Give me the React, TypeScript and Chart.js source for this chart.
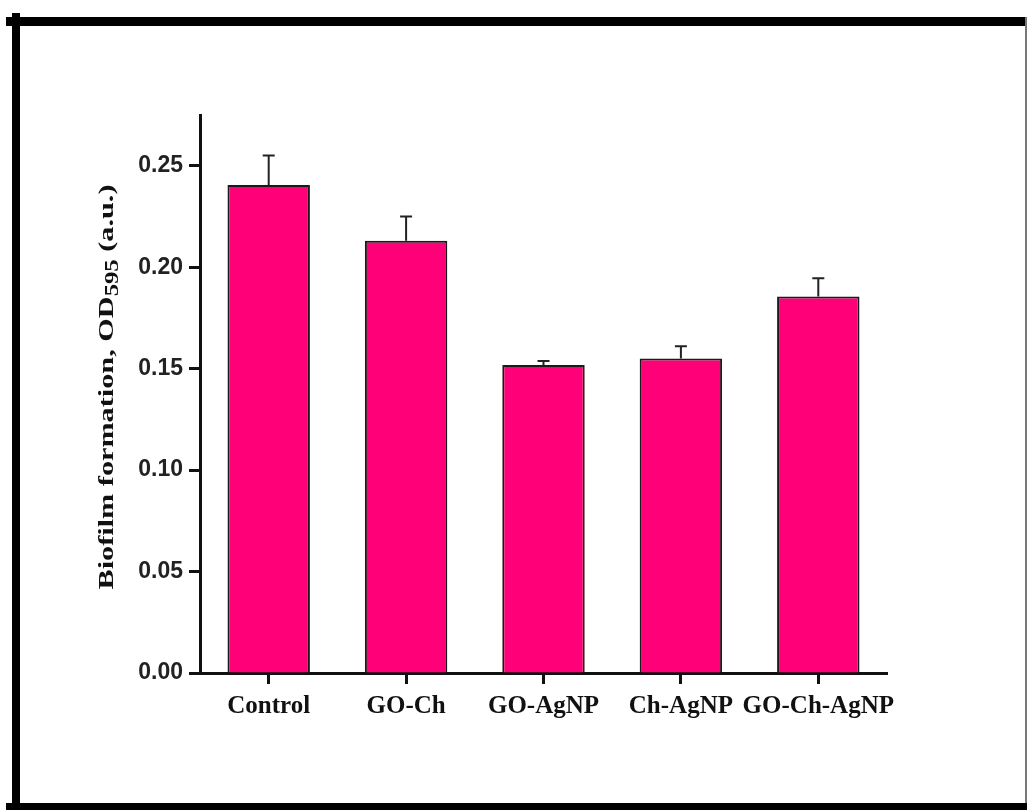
import React, { useEffect, useRef } from "react";
import { Chart, registerables } from "chart.js";

Chart.register(...registerables);

const categories = ["Control", "GO-Ch", "GO-AgNP", "Ch-AgNP", "GO-Ch-AgNP"];
const values = [0.2405, 0.213, 0.1518, 0.155, 0.1855];
const errors = [0.0145, 0.012, 0.002, 0.006, 0.009];
const yTicks = [0.0, 0.05, 0.1, 0.15, 0.2, 0.25];
const yTitleMain = "Biofilm formation, OD";
const yTitleSub = "595";
const yTitleTail = " (a.u.)";

const W = 1027;
const H = 810;

const framePlugin = {
  id: "frame",
  beforeDraw(chart: any) {
    const ctx = chart.ctx;
    ctx.save();
    ctx.fillStyle = "#ffffff";
    ctx.fillRect(0, 0, W, H);
    ctx.fillStyle = "#000000";
    ctx.fillRect(12, 13, 8, H - 13);
    ctx.fillRect(6, 17, 1019, 9);
    ctx.fillRect(6, 803, W - 6, 7);
    ctx.fillStyle = "#777777";
    ctx.fillRect(1025, 17, 2, 786);
    ctx.restore();
  },
};

const errorBarPlugin = {
  id: "errorBars",
  afterDatasetsDraw(chart: any) {
    const ctx = chart.ctx;
    const meta = chart.getDatasetMeta(0);
    const yScale = chart.scales.y;
    ctx.save();
    ctx.strokeStyle = "#222222";
    ctx.lineWidth = 2;
    meta.data.forEach((bar: any, i: number) => {
      const x = bar.x;
      const yb = yScale.getPixelForValue(values[i]);
      const yt = yScale.getPixelForValue(values[i] + errors[i]);
      ctx.beginPath();
      ctx.moveTo(x, yb);
      ctx.lineTo(x, yt);
      ctx.moveTo(x - 6, yt);
      ctx.lineTo(x + 6, yt);
      ctx.stroke();
    });
    ctx.restore();
  },
};

const yTitlePlugin = {
  id: "yTitle",
  afterDraw(chart: any) {
    const ctx = chart.ctx;
    ctx.save();
    const mainFont = "bold 22px 'Liberation Serif', 'Times New Roman', serif";
    const subFont = "bold 18px 'Liberation Serif', 'Times New Roman', serif";
    ctx.font = mainFont;
    const w1 = ctx.measureText(yTitleMain).width;
    const w3 = ctx.measureText(yTitleTail).width;
    ctx.font = subFont;
    const w2 = ctx.measureText(yTitleSub).width;
    const total = w1 + w2 + w3;
    const target = 405;
    const sx = target / total;
    const cx = 107;
    const cy = 387;
    ctx.translate(cx, cy);
    ctx.rotate(-Math.PI / 2);
    ctx.scale(sx, 1);
    ctx.fillStyle = "#111111";
    ctx.textBaseline = "middle";
    ctx.textAlign = "left";
    let x = -total / 2;
    ctx.font = mainFont;
    ctx.fillText(yTitleMain, x, 0);
    x += w1;
    ctx.font = subFont;
    ctx.fillText(yTitleSub, x, 6);
    x += w2;
    ctx.font = mainFont;
    ctx.fillText(yTitleTail, x, 0);
    ctx.restore();
  },
};

export default function App() {
  const ref = useRef<HTMLCanvasElement | null>(null);
  useEffect(() => {
    if (!ref.current) return;
    const chart = new Chart(ref.current, {
      type: "bar",
      data: {
        labels: categories,
        datasets: [
          {
            data: values,
            backgroundColor: "#FF0078",
            borderColor: "#1a1a1a",
            borderWidth: 2,
            barPercentage: 0.6,
            categoryPercentage: 1.0,
          },
        ],
      },
      options: {
        animation: false,
        responsive: false,
        devicePixelRatio: 1,
        layout: { padding: { left: 0, top: 115, right: 140, bottom: 0 } },
        plugins: {
          legend: { display: false },
          tooltip: { enabled: false },
        },
        scales: {
          x: {
            offset: true,
            afterFit(scale: any) {
              scale.height = H - 673;
            },
            grid: {
              offset: false,
              drawOnChartArea: false,
              drawTicks: true,
              tickLength: 11,
              tickWidth: 3,
              tickColor: "#111111",
            },
            border: { display: true, width: 3, color: "#111111" },
            ticks: {
              padding: 8,
              color: "#111111",
              autoSkip: false,
              font: { family: "'Liberation Serif', 'Times New Roman', serif", size: 25, weight: "bold" },
              maxRotation: 0,
              minRotation: 0,
            },
          },
          y: {
            min: 0,
            max: 0.275,
            afterFit(scale: any) {
              scale.width = 200;
            },
            afterBuildTicks(scale: any) {
              scale.ticks = yTicks.map((v) => ({ value: v }));
            },
            grid: {
              drawOnChartArea: false,
              drawTicks: true,
              tickLength: 11,
              tickWidth: 3,
              tickColor: "#111111",
            },
            border: { display: true, width: 3, color: "#111111" },
            ticks: {
              padding: 6,
              color: "#222222",
              font: { family: "'Liberation Sans', Arial, sans-serif", size: 23, weight: "bold" },
              callback: (v: any) => Number(v).toFixed(2),
            },
          },
        },
      },
      plugins: [framePlugin, errorBarPlugin, yTitlePlugin],
    });
    return () => chart.destroy();
  }, []);
  return (
    <div style={{ position: "absolute", left: 0, top: 0, width: W, height: H }}>
      <canvas ref={ref} width={W} height={H} style={{ width: W, height: H, display: "block" }} />
    </div>
  );
}
